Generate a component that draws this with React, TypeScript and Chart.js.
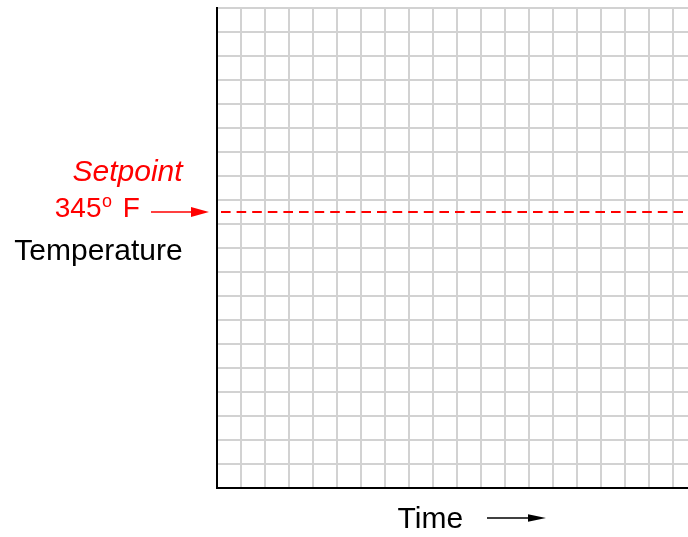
import React, { useEffect, useRef } from "react";
import { Chart, registerables } from "chart.js";

Chart.register(...registerables);

// Data
const yGridLines = 20; // number of grid divisions vertically
const xGridLines = 19.625; // visible divisions horizontally (grid continues past the edge)
const setpointValue = 11.5; // setpoint position on the temperature scale (grid units)
const setpointSeries = [
  { x: 0, y: setpointValue },
  { x: xGridLines, y: setpointValue },
];
const yAxisLabel = "Temperature";
const xAxisLabel = "Time";
const setpointTitle = "Setpoint";
const setpointNumber = "345";
const setpointDegree = "o";
const setpointUnit = "F";

const FONT = "'Liberation Sans', Arial, Helvetica, sans-serif";

function arrow(ctx: CanvasRenderingContext2D, x1: number, x2: number, y: number, headLen: number, half: number, color: string, lw: number) {
  ctx.save();
  ctx.strokeStyle = color;
  ctx.fillStyle = color;
  ctx.lineWidth = lw;
  ctx.beginPath();
  ctx.moveTo(x1, y);
  ctx.lineTo(x2 - headLen + 2, y);
  ctx.stroke();
  ctx.beginPath();
  ctx.moveTo(x2, y);
  ctx.lineTo(x2 - headLen, y - half);
  ctx.lineTo(x2 - headLen, y + half);
  ctx.closePath();
  ctx.fill();
  ctx.restore();
}

const annotations = {
  id: "annotations",
  afterDraw(chart: any) {
    const ctx: CanvasRenderingContext2D = chart.ctx;
    const y = chart.scales.y;
    const x = chart.scales.x;
    const spY = y.getPixelForValue(setpointValue);
    const left = x.left;
    ctx.save();
    ctx.textBaseline = "alphabetic";
    ctx.textAlign = "left";
    // Setpoint title
    ctx.fillStyle = "#ff0000";
    ctx.font = `italic 30px ${FONT}`;
    ctx.fillText(setpointTitle, 72.5, spY - 31);
    // 345 o F
    ctx.font = `28px ${FONT}`;
    ctx.fillText(setpointNumber, 54.8, spY + 4.7);
    ctx.font = `18px ${FONT}`;
    ctx.fillText(setpointDegree, 102, spY - 5.5);
    ctx.font = `28px ${FONT}`;
    ctx.fillText(setpointUnit, 122.7, spY + 4.7);
    // Temperature
    ctx.fillStyle = "#000000";
    ctx.font = `30px ${FONT}`;
    ctx.fillText(yAxisLabel, 14.3, spY + 48);
    // Time
    ctx.fillText(xAxisLabel, 397.6, y.bottom + 40.3);
    ctx.restore();
    arrow(ctx, 151, left - 8, spY, 18, 5, "#ff0000", 1.6);
    arrow(ctx, 487, 546, y.bottom + 30, 18, 3.8, "#000000", 1.6);
  },
};

export default function App() {
  const ref = useRef<HTMLCanvasElement | null>(null);
  useEffect(() => {
    if (!ref.current) return;
    const chart = new Chart(ref.current, {
      type: "line",
      data: {
        datasets: [
          {
            label: "Setpoint",
            data: setpointSeries,
            borderColor: "#ff0000",
            borderWidth: 2,
            borderDash: [9.6, 6],
            borderDashOffset: -4,
            pointRadius: 0,
            fill: false,
          },
        ],
      },
      options: {
        animation: false,
        responsive: false,
        devicePixelRatio: 1,
        layout: { padding: { left: 217, top: 8, right: 0, bottom: 49 } },
        plugins: { legend: { display: false }, tooltip: { enabled: false } },
        scales: {
          x: {
            type: "linear",
            min: 0,
            max: xGridLines,
            afterBuildTicks: (scale: any) => {
              const t = [];
              for (let i = 0; i <= Math.floor(xGridLines); i++) t.push({ value: i });
              scale.ticks = t;
            },
            ticks: { display: false },
            grid: { color: "#d2d2d2", lineWidth: 2, drawTicks: false },
            border: { color: "#000000", width: 2 },
          },
          y: {
            type: "linear",
            min: 0,
            max: yGridLines,
            afterBuildTicks: (scale: any) => {
              const t = [];
              for (let i = 0; i <= yGridLines; i++) t.push({ value: i });
              scale.ticks = t;
            },
            ticks: { display: false },
            grid: { color: "#d2d2d2", lineWidth: 2, drawTicks: false },
            border: { color: "#000000", width: 2 },
          },
        },
      },
      plugins: [annotations],
    });
    return () => chart.destroy();
  }, []);
  return (
    <div style={{ position: "absolute", left: 0, top: 0, width: 688, height: 537 }}>
      <canvas ref={ref} width={688} height={537} style={{ width: 688, height: 537, display: "block" }} />
    </div>
  );
}
